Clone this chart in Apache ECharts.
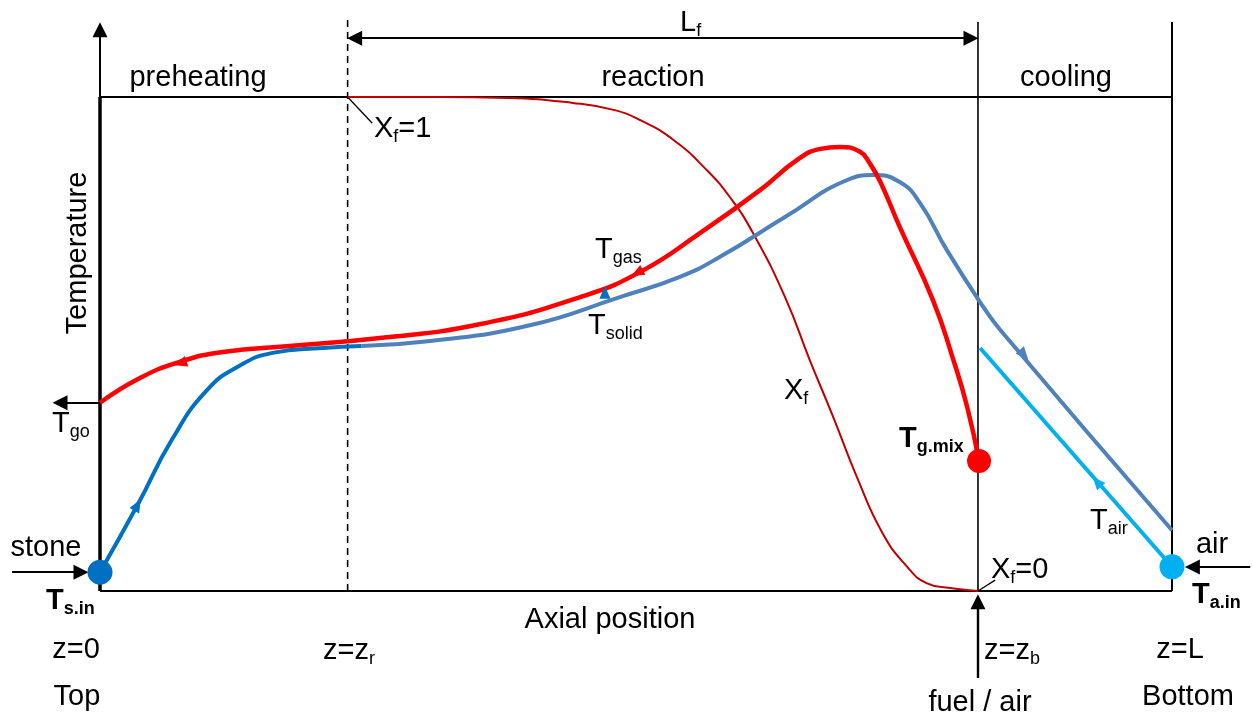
<!DOCTYPE html>
<html>
<head>
<meta charset="utf-8">
<script src="https://cdn.jsdelivr.net/npm/echarts@6/dist/echarts.min.js"></script>
<style>
    html, body { margin: 0; padding: 0; background: #fff; }
    #chart { width: 1253px; height: 722px; }
</style>
</head>
<body>
<div id="chart"></div>
<script>
    // z = axial position (0 = top, 100 = bottom), T = relative temperature (0..100 inside the box)
    const zR = 23.1, zB = 81.9, zL = 100;
    const tAbove = 115.2;   // top of the vertical guide lines
    const tLf = 111.9;      // level of the L_f dimension arrow

    const tSolidPre = [[0, 3.8], [3.5, 17.4], [6.7, 30.6], [10.0, 40.7], [13.1, 45.7], [16.1, 48.2], [20.8, 49.2], [24.4, 49.6]];
    const tSolid = [[24.4, 49.6], [30.8, 50.6], [40.1, 53.8], [48.5, 59.5], [54.1, 63.6], [57.8, 67.6], [63.9, 75.7],
        [69.7, 83.2], [72.1, 84.2], [74.6, 82.8], [76.5, 78.5], [79.0, 69.0], [82.4, 57.5], [84.0, 52.8], [100, 12.3]];
    const tGas = [[0, 38.1], [3.73, 43.1], [7.46, 46.4], [11.5, 48.4], [17.7, 49.6], [26.1, 51.2], [35.4, 54.0],
        [44.8, 59.5], [50.4, 64.6], [56.0, 72.5], [61.6, 81.2], [65.0, 87.2], [67.2, 89.5], [69.0, 89.9], [70.9, 88.9],
        [71.8, 86.6], [72.8, 82.8], [74.6, 73.7], [77.7, 58.9], [79.6, 46.8], [80.9, 37.2], [82.0, 26.3]];
    const xFuel = [[23.1, 100], [31.7, 100], [38.0, 99.8], [44.1, 98.8], [47.9, 97.4], [50.4, 95.3], [53.5, 91.3],
        [56.6, 85.2], [58.8, 79.6], [60.9, 72.5], [63.9, 59.5], [66.2, 46.8], [68.4, 35.2], [70.6, 23.1],
        [73.0, 11.7], [75.3, 4.9], [77.1, 1.6], [79.3, 0.6], [81.9, 0]];
    const tAir = [[82.1, 49.2], [100, 4.9]];

    const pSolidIn = [0, 3.8];
    const pGasMix = [82.0, 26.3];
    const pAirIn = [100, 4.9];

    // flow direction markers: z, T, direction (deg)
    const flowSolidPre = [3.5, 17.4, -29];
    const flowGasPre = [7.5, 46.1, 108];
    const flowGas = [50.1, 64.4, 118];
    const flowSolidMid = [47.1, 60.5, 0];
    const flowSolidCool = [86.2, 47.8, -139];
    const flowAir = [93.0, 22.1, 41.5];

    // box on screen
    const BOX = { left: 100, right: 1172, top: 97, bottom: 591, w: 1253, h: 722 };
    const sx = (BOX.right - BOX.left) / 100, sy = (BOX.bottom - BOX.top) / 100;

    const FONT = '"Liberation Sans", Arial, sans-serif';
    const BLACK = '#000';

    const frame = [
        { pts: [[0, 0], [0, 100]], w: 3.5 },
        { pts: [[0, 100], [zL, 100]], w: 1.8 },
        { pts: [[0, 0], [zL, 0]], w: 1.8 },
        { pts: [[zB, 0], [zB, tAbove]], w: 1.6 },
        { pts: [[zL, 0], [zL, tAbove]], w: 2 },
        { pts: [[zR, 0], [zR, 115.6]], w: 1.6, dash: [7, 5] },
        { pts: [[zR, 100], [25.4, 94.7]], w: 1.3 },
        { pts: [[zB, 0], [83.5, 2.2]], w: 1.3 }
    ];

    const arrows = [
        { from: [0, 100], to: [0, 113.6], both: false, w: 2 },
        { from: [23.75, tLf], to: [81.25, tLf], both: true, w: 2 },
        { from: [0, 38.1], to: [-3.73, 38.1], both: false, w: 2 },
        { from: [-8.2, 3.8], to: [-1.77, 3.8], both: false, w: 2 },
        { from: [107.3, 4.86], to: [101.9, 4.86], both: false, w: 2 },
        { from: [zB, -17.6], to: [zB, -2.2], both: false, w: 2.4 }
    ];

    function lineSeries(data, color, width, dash, smooth) {
        return {
            type: 'line', data: data, clip: false, silent: true, symbol: 'none',
            smooth: smooth || false,
            lineStyle: { color: color, width: width, type: dash || 'solid' },
            z: 3
        };
    }

    function dot(p, color, size) {
        return {
            type: 'scatter', data: [p], symbol: 'circle', symbolSize: size, clip: false, silent: true,
            itemStyle: { color: color, opacity: 1 }, z: 6
        };
    }

    function flow(f, color) {
        return {
            type: 'scatter', data: [[f[0], f[1]]], symbol: 'triangle', symbolSize: [11, 13],
            symbolRotate: f[2], clip: false, silent: true,
            itemStyle: { color: color, opacity: 1 }, z: 5
        };
    }

    const series = [];
    frame.forEach(f => series.push(lineSeries(f.pts, BLACK, f.w, f.dash, false)));
    series.push({
        type: 'line', data: [], clip: false, silent: true,
        markLine: {
            silent: true, animation: false,
            label: { show: false },
            emphasis: { disabled: true },
            data: arrows.map(a => [
                { coord: a.from, symbol: a.both ? 'triangle' : 'none', symbolSize: [15, 15] },
                { coord: a.to, symbol: 'triangle', symbolSize: [15, 15], lineStyle: { color: BLACK, width: a.w, type: 'solid' } }
            ]),
            lineStyle: { color: BLACK, type: 'solid' },
            itemStyle: { color: BLACK }
        }
    });
    series.push(lineSeries(xFuel, '#C00000', 2, null, 0.5));
    series.push(lineSeries(tSolidPre, '#0070C0', 4, null, 0.5));
    series.push(lineSeries(tSolid, '#4F81BD', 4, null, 0.5));
    series.push(lineSeries(tGas, '#FF0000', 4.5, null, 0.5));
    series.push(lineSeries(tAir, '#00B0F0', 4, null, false));
    series.push(flow(flowSolidPre, '#0070C0'));
    series.push(flow(flowGasPre, '#FF0000'));
    series.push(flow(flowGas, '#FF0000'));
    series.push(flow(flowSolidMid, '#0070C0'));
    series.push(flow(flowSolidCool, '#4F81BD'));
    series.push(flow(flowAir, '#00B0F0'));
    series.push(dot(pSolidIn, '#0070C0', 25));
    series.push(dot(pGasMix, '#FF0000', 24));
    series.push(dot(pAirIn, '#00B0F0', 25));

    const rich = {
        m: { fontSize: 29, fontFamily: FONT, verticalAlign: 'bottom', padding: [0, 0, 3, 0], fill: BLACK },
        s: { fontSize: 18, fontFamily: FONT, verticalAlign: 'bottom', fill: BLACK },
        mb: { fontSize: 29, fontFamily: FONT, fontWeight: 'bold', verticalAlign: 'bottom', padding: [0, 0, 3, 0], fill: BLACK },
        sb: { fontSize: 18, fontFamily: FONT, fontWeight: 'bold', verticalAlign: 'bottom', fill: BLACK }
    };

    function txt(x, y, text, align, rot) {
        return {
            type: 'text', x: x, y: y, rotation: rot || 0, silent: true, z: 10,
            style: {
                text: text, font: '29px ' + FONT, fill: BLACK, rich: rich,
                align: align || 'center', verticalAlign: 'middle',
                textAlign: align || 'center', textVerticalAlign: 'middle'
            }
        };
    }

    const labels = [
        txt(78, 253, 'Temperature', 'center', Math.PI / 2),
        txt(198, 78, 'preheating'),
        txt(653, 78, 'reaction'),
        txt(1066, 78, 'cooling'),
        txt(680, 24, '{m|L}{s|f}', 'left'),
        txt(374, 130, '{m|X}{s|f}{m|=1}', 'left'),
        txt(595, 251, '{m|T}{s|gas}', 'left'),
        txt(588, 327, '{m|T}{s|solid}', 'left'),
        txt(784, 392, '{m|X}{s|f}', 'left'),
        txt(52, 425, '{m|T}{s|go}', 'left'),
        txt(899, 440, '{mb|T}{sb|g.mix}', 'left'),
        txt(1090, 522, '{m|T}{s|air}', 'left'),
        txt(1212, 545, 'air'),
        txt(1192, 596, '{mb|T}{sb|a.in}', 'left'),
        txt(991, 571, '{m|X}{s|f}{m|=0}', 'left'),
        txt(46, 548, 'stone'),
        txt(46, 602, '{mb|T}{sb|s.in}', 'left'),
        txt(610, 620, 'Axial position'),
        txt(76, 650, 'z=0'),
        txt(323, 652, '{m|z=z}{s|r}', 'left'),
        txt(984, 652, '{m|z=z}{s|b}', 'left'),
        txt(1180, 650, 'z=L'),
        txt(77, 697, 'Top'),
        txt(980, 703, 'fuel / air'),
        txt(1188, 697, 'Bottom')
    ];

    const myChart = echarts.init(document.getElementById('chart'));
    myChart.setOption({
        animation: false,
        backgroundColor: '#fff',
        grid: { left: 0, right: 0, top: 0, bottom: 0 },
        xAxis: {
            type: 'value', show: false,
            min: -BOX.left / sx, max: (BOX.w - BOX.left) / sx
        },
        yAxis: {
            type: 'value', show: false,
            min: -(BOX.h - BOX.bottom) / sy, max: BOX.bottom / sy
        },
        graphic: { elements: labels },
        series: series
    });
</script>
</body>
</html>
